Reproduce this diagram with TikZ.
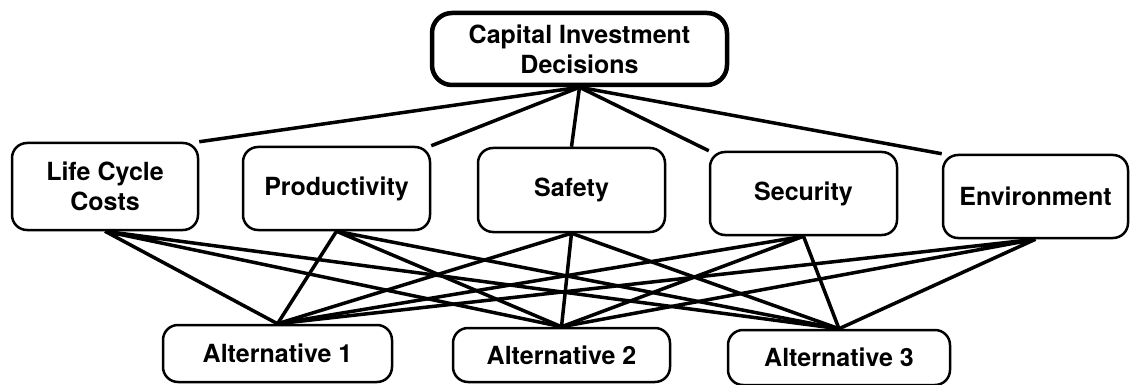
\documentclass[tikz,border=0pt]{standalone}
\usepackage{fontspec}
\setmainfont{TeX Gyre Heros}
\usepackage{tikz}
\usetikzlibrary{positioning}
\tikzstyle{goal} = [rectangle, rounded corners=20pt, line width=4.5pt, draw=black, align=center, font=\fontsize{25}{30}\selectfont\bfseries]
\tikzstyle{criterion} = [rectangle, rounded corners=15pt, line width=2.5pt, draw=black, align=center, font=\fontsize{25}{30}\selectfont\bfseries]
\tikzstyle{option} = [rectangle, rounded corners=15pt, line width=2.5pt, draw=black, align=center, font=\fontsize{25}{30}\selectfont\bfseries]
\tikzstyle{link} = [line width=3.5pt, draw=black]

\begin{document}
\begin{tikzpicture}[x=1pt, y=-1pt]
\useasboundingbox (0,0) rectangle (1130,385);

 \node (goal) [goal, minimum width=295pt, minimum height=72pt] at (579.5,49) {Capital Investment\\Decisions};

 \node (lcc) [criterion, minimum width=186pt, minimum height=87pt] at (105,186.5) {Life Cycle\\Costs};
 \node (prod) [criterion, minimum width=187pt, minimum height=83pt] at (336.5,188.5) {Productivity};
 \node (safety) [criterion, minimum width=187pt, minimum height=84pt] at (571.5,190) {Safety};
 \node (security) [criterion, minimum width=187pt, minimum height=83pt] at (803.5,193.5) {Security};
 \node (env) [criterion, minimum width=185pt, minimum height=83pt] at (1035.5,196.5) {Environment};

 \node (alt1) [option, minimum width=229pt, minimum height=57pt] at (277.5,353.5) {Alternative 1};
 \node (alt2) [option, minimum width=217pt, minimum height=54pt] at (561.5,355) {Alternative 2};
 \node (alt3) [option, minimum width=222pt, minimum height=55pt] at (839,357.5) {Alternative 3};

 % goal to criteria
 \draw[link] (goal.south) -- (lcc.north east);
 \draw[link] (goal.south) -- (prod.north east);
 \draw[link] (goal.south) -- (safety.north);
 \draw[link] (goal.south) -- (security.north west);
 \draw[link] (goal.south) -- (env.north west);

 % criteria to alternatives
 \draw[link] (lcc.south) -- (alt1.north) (lcc.south) -- (alt2.north) (lcc.south) -- (alt3.north);
 \draw[link] (prod.south) -- (alt1.north) (prod.south) -- (alt2.north) (prod.south) -- (alt3.north);
 \draw[link] (safety.south) -- (alt1.north) (safety.south) -- (alt2.north) (safety.south) -- (alt3.north);
 \draw[link] (security.south) -- (alt1.north) (security.south) -- (alt2.north) (security.south) -- (alt3.north);
 \draw[link] (env.south) -- (alt1.north) (env.south) -- (alt2.north) (env.south) -- (alt3.north);
\end{tikzpicture}
\end{document}
